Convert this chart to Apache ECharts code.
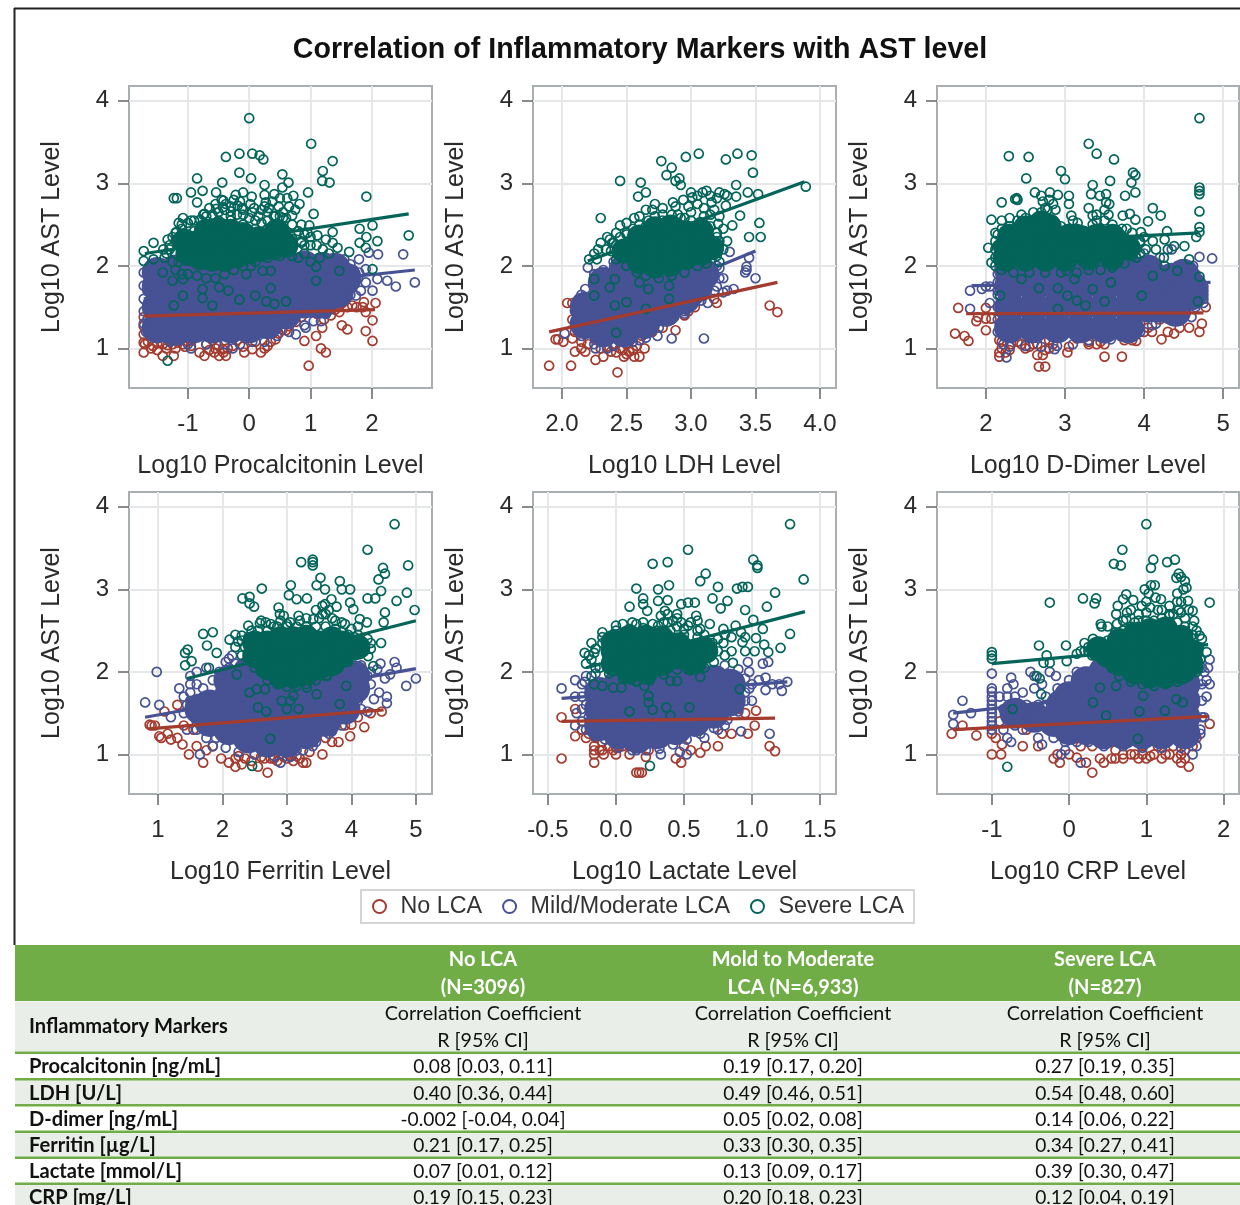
<!DOCTYPE html>
<html><head><meta charset="utf-8">
<style>html,body{margin:0;padding:0;background:#fff;overflow:hidden}#c{width:1240px;height:1205px;filter:blur(0.45px)}</style>
<script src="https://cdn.jsdelivr.net/npm/echarts@6/dist/echarts.min.js"></script>
</head><body><div id="c"></div>
<script>
const titleText = 'Correlation of Inflammatory Markers with AST level';
const groups = ['No LCA', 'Mild/Moderate LCA', 'Severe LCA'];
const yTicks = [1, 2, 3, 4];

// ---------- Procalcitonin ----------
const procNo = [[-1.72,.95],[-1.72,1.07],[-1.72,1.17],[-1.72,1.27],[-1.72,1.38],[-1.41,.91],[-1.23,.91],[-1.57,1.03],[-1.41,1.05],[-1.25,1.05],[-1.08,1.05],[-.92,1.11],[-.81,.95],[-.73,.91],[-.57,.95],[-.49,.91],[-.38,.91],[-.43,.99],[-.27,1.03],[-.08,.95],[.05,.99],[.19,.95],[.3,1.03],[.43,1.11],[.54,1.23],[.76,1.32],[.9,1.09],[.97,.79],[1.09,1.15],[1.17,1],[1.25,.95],[1.19,1.25],[1.33,1.4],[1.47,1.44],[1.51,1.28],[1.6,1.23],[1.9,1.21],[2.01,1.34],[2.01,1.09],[2.06,1.55],[1.87,1.56],[1.9,1.44],[1.68,1.52],[1.52,1.55],[1.3,1.52],[1.03,1.48],[-1.65,1.08],[-1.5,1.06],[-1.33,1.04],[-1.16,1.07],[-1,1.08],[-.7,1.05],[-.6,1.1],[-.5,1.03],[-.2,1.1],[.1,1.08],[.38,1.18],[.65,1.27],[1.22,1.35],[1.4,1.47],[1.75,1.5],[-1.7,1.05],[-1.6,1],[-1.5,.98],[-1.35,1],[-1.2,1],[-1.05,1.02],[-.95,1.03],[-.65,.98],[-.55,1],[-.42,.95],[-.35,1],[-.1,1.02],[.25,1],[.35,1.08],[.48,1.18],[.6,1.22],[.85,1.38],[1.1,1.42],[1.25,1.42],[1.6,1.5],[1.85,1.5]];
const procMild = [[2.7,1.8],[2.51,2.14],[2.39,1.75],[2.25,1.82],[2.1,2.14],[2.09,1.84],[2.01,1.7],[1.9,1.8],[1.79,1.92],[1.68,1.8],[1.6,1.96],[1.47,1.72],[1.9,1.96],[1.74,1.64],[1.95,2.16],[1.55,2.08],[1.36,2.08],[1.79,2.08],[-1.72,1.92],[-1.72,1.76],[-1.56,1.96],[-.95,1],[-.27,1],[.76,1.17],[.92,1.25],[1.17,1.33],[1.72,1.92],[1.82,1.7],[1.6,1.72],[1.5,1.85],[1.4,1.95],[1.65,2.02],[-1.72,1.6],[-1.72,1.45],[-1.72,1.3],[-1.68,1.2],[-1.66,1.52],[-1.66,1.7],[-1.66,1.35],[1.7,1.95],[1.78,1.85],[1.65,1.65],[1.55,1.6],[1.42,1.55],[1.25,1.42],[1.05,1.33],[.9,1.28],[.65,1.2],[.45,1.15],[.25,1.08],[.05,1.08],[-.15,1.05],[-.4,1.05],[-.7,1.05],[-1,1.05],[-1.3,1.08]];
const procMildCore = [[-1.5,1.25],[-1.2,1.22],[-.9,1.25],[-.6,1.25],[-.3,1.25],[0,1.25],[.3,1.3],[.6,1.42],[-1.5,1.5],[-1.2,1.5],[-.9,1.5],[-.6,1.5],[-.3,1.5],[0,1.5],[.3,1.55],[.6,1.6],[.9,1.55],[1.18,1.55],[-1.5,1.75],[-1.2,1.75],[-.9,1.75],[-.6,1.75],[-.3,1.75],[0,1.75],[.3,1.8],[.6,1.8],[.9,1.8],[1.2,1.8],[1.45,1.85],[-1.5,1.92],[-1.2,1.95],[-.9,1.95],[-.6,1.95],[-.3,1.95],[0,1.95],[.3,2],[.6,2],[.9,2],[1.2,1.98],[1.45,1.68],[1.58,1.85],[1.4,1.97]];
const procSevere = [[0,3.79],[1.01,3.48],[1.36,3.27],[-.38,3.32],[-.16,3.36],[.05,3.36],[.17,3.34],[.23,3.29],[-.16,3.13],[.03,3.06],[-.85,3.06],[-.44,3.01],[.25,2.98],[.54,3.11],[.64,3.01],[.54,2.95],[1.2,3.15],[1.19,3.03],[1.31,3.01],[.96,2.89],[1.91,2.84],[-.95,2.89],[-.76,2.91],[-.54,2.89],[-1.23,2.82],[-1.18,2.82],[-.85,2.77],[-.42,2.79],[-.22,2.86],[-.1,2.89],[.04,2.84],[.25,2.86],[.41,2.87],[.72,2.85],[.82,2.75],[.27,2.77],[-.19,2.73],[-.54,2.69],[-.43,2.71],[.05,2.65],[1.05,2.63],[.7,2.61],[.43,2.61],[-1.08,2.58],[-.73,2.63],[-1.19,2.41],[-1.56,2.28],[-1.33,2.32],[-1.72,2.18],[-1.72,2.06],[-1.56,2.08],[2.01,2.49],[1.8,2.45],[1.91,2.35],[2.09,2.3],[2.6,2.37],[1.8,2.28],[1.36,2.41],[1.11,2.37],[.98,2.49],[1.36,2.28],[1.44,2.22],[1.63,2.17],[1.9,2.22],[1.09,1.99],[1.09,1.82],[1.47,1.94],[2.01,1.96],[-1.08,1.64],[-1.23,1.52],[-.76,1.61],[-.6,1.52],[-.16,1.59],[.1,1.64],[.28,1.57],[.35,1.73],[.41,1.54],[.6,1.57],[-.34,1.7],[-.49,1.74],[-.76,1.72],[-1.25,1.82],[-1.08,1.84],[-1.41,1.92],[-.05,1.9],[.22,1.94],[.35,1.94],[.03,2],[-1.33,.85],[-.3,2.6],[-.1,2.68],[.15,2.6],[.3,2.65],[.55,2.58],[-1.3,2.2],[-1.38,2.1],[.85,2.3],[1,2.25],[1.2,2.2],[.8,2.1],[-1.15,2.52],[-.95,2.55]];
const procSevereEdge = [[-1.2,2.4],[-1.1,2.5],[-1,2.52],[-.9,2.55],[-.8,2.56],[-.7,2.6],[-.6,2.62],[-.5,2.65],[-.4,2.68],[-.3,2.66],[-.2,2.62],[-.1,2.62],[0,2.58],[.1,2.55],[.2,2.52],[.3,2.55],[.4,2.6],[.5,2.6],[.6,2.58],[.7,2.5],[.8,2.42],[.9,2.38],[1,2.35],[-1.3,2.25],[-1.35,2.15],[-1.25,2.05],[-1.2,1.95],[-1.1,1.9],[-1,1.9],[-.85,1.88],[-.7,1.85],[-.55,1.85],[-.4,1.9],[-.25,1.95],[-.1,2],[.1,2.05],[.3,2.1],[.5,2.12],[.7,2.12],[.9,2.15],[-.9,2.42],[-.7,2.5],[-.5,2.55],[-.3,2.55],[-.1,2.5],[.1,2.45],[.3,2.45],[.6,2.42],[.7,2.33],[.85,2.28],[-1.2,2.3],[-1.2,2.15],[-1.15,2.05],[-.75,2.62],[-.65,2.7],[-.55,2.75],[-.45,2.8],[-.38,2.75],[-.3,2.72],[-.25,2.8],[-.15,2.78],[-.12,2.7],[.02,2.75],[.08,2.7],[.2,2.68],[.25,2.72],[.32,2.7],[.38,2.78],[.48,2.72],[.55,2.65],[.65,2.72],[.75,2.68],[.62,2.82],[.5,2.82],[.85,2.5],[.95,2.4],[-1.1,2.45],[-1.25,2.35],[-1.4,2.2],[1.1,2.25],[1.25,2.32],[1.3,2.15],[1.15,2.1],[1,2.05],[.9,2.25]];
const procSevereCore = [[-1,2.15],[-.8,2.1],[-.6,2.08],[-.4,2.08],[-.2,2.12],[0,2.17],[.2,2.2],[.4,2.22],[.6,2.25],[-1.05,2.3],[-.85,2.28],[-.65,2.28],[-.45,2.28],[-.25,2.28],[-.05,2.3],[.15,2.33],[.35,2.33],[-.7,2.42],[-.5,2.44],[-.3,2.42],[-.1,2.38],[.45,2.42]];
const procFitNo = [[-1.72,1.39],[2.05,1.47]];
const procFitMild = [[-1.72,1.6],[2.7,1.95]];
const procFitSevere = [[-1.7,2.15],[2.6,2.63]];

// ---------- LDH ----------
const ldhNo = [[1.9,.79],[2.07,.79],[2.43,.71],[1.95,1.11],[1.97,1.11],[2.01,1.08],[2.08,1.12],[2.1,.96],[2.15,1],[2.18,.96],[2.26,.86],[2.32,.9],[2.38,.96],[2.48,.9],[2.52,.96],[2.56,.9],[2.6,.9],[2.64,1],[2.08,1.35],[2.04,1.55],[2.08,1.55],[2.1,1.2],[2.15,1.08],[2.3,1],[2.45,1],[2.5,1.05],[2.7,1.2],[2.78,1.25],[2.88,1.22],[2.95,1.4],[3,1.55],[3.03,1.5],[3.2,1.55],[3.18,1.6],[3.61,1.52],[3.67,1.44],[2.2,1.05],[2.4,1.05],[2.58,1.03],[2.62,1.15],[2.82,1.33],[2.98,1.45],[2.35,1.02],[2.42,.95],[2.47,.98],[2.5,.93],[2.55,.98]];
const ldhMild = [[3.1,1.12],[2.85,1.12],[3.5,1.85],[3.43,1.95],[3.43,1.99],[3.42,1.92],[3.3,2.17],[3.45,2.1],[3.33,1.72],[3.25,1.68],[3.2,1.75],[3.13,1.55],[2.95,1.42],[2.87,1.38],[2.74,1.15],[2.2,1.98],[2.13,1.6],[2.02,1.18],[2.26,1],[2.35,1],[2.6,1.1],[2.15,1.65],[2.25,1.9],[3.22,1.85],[3.2,2],[3.28,1.7],[3.05,1.6],[2.1,1.45],[2.12,1.3],[2.15,1.15],[2.25,1.05],[2.4,1.03],[2.55,1.08],[2.65,1.13],[2.75,1.25],[2.85,1.35],[2.95,1.45],[3.08,1.58],[3.18,1.7],[3.25,1.85],[3.22,1.97],[2.18,1.72],[2.25,1.8],[2.32,1.95],[2.4,2.05]];
const ldhMildCore = [[2.18,1.3],[2.18,1.5],[2.32,1.2],[2.32,1.4],[2.32,1.6],[2.32,1.8],[2.48,1.2],[2.48,1.4],[2.48,1.6],[2.48,1.8],[2.48,1.95],[2.64,1.3],[2.64,1.5],[2.64,1.7],[2.64,1.9],[2.8,1.45],[2.8,1.65],[2.8,1.85],[2.95,1.6],[2.95,1.8],[3.05,1.75],[3.1,1.9]];
const ldhSevere = [[2.45,3.03],[2.61,3.01],[2.59,2.84],[2.65,2.89],[2.77,3.27],[2.85,3.19],[2.81,3.1],[2.96,3.32],[3.06,3.36],[3.27,3.29],[3.36,3.36],[3.47,3.34],[3.48,3.13],[2.88,3.03],[2.91,3.06],[2.92,2.98],[3.35,2.98],[3.35,2.84],[3.44,2.89],[3.52,2.87],[3.89,2.96],[3.38,2.61],[3.32,2.49],[3.53,2.52],[3.54,2.35],[3.45,2.35],[2.3,2.58],[2.45,2.49],[2.56,2.58],[2.65,2.68],[2.72,2.75],[2.86,2.77],[2.94,2.8],[3,2.89],[3.12,2.91],[3.22,2.89],[3.26,2.87],[3.27,2.73],[3.16,2.77],[3.01,2.83],[3.09,2.89],[3.21,2.51],[2.3,2.28],[2.37,2.32],[2.21,2.08],[2.39,2.28],[2.34,2.2],[2.27,2.08],[3.2,2.35],[3.25,2.2],[2.25,1.64],[2.41,1.52],[2.5,1.56],[2.65,1.48],[2.83,1.76],[2.83,1.6],[2.42,1.19],[2.37,1.74],[2.67,1.72],[2.6,1.8],[2.41,1.84],[2.25,1.84],[3,2.65],[3.1,2.6],[3.18,2.68],[2.95,2.58],[2.5,2.38],[2.42,2.25],[2.9,2.62],[3.18,2.2],[3.22,2.05]];
const ldhSevereEdge = [[2.4,2.28],[2.45,2.35],[2.5,2.4],[2.55,2.45],[2.6,2.5],[2.67,2.55],[2.72,2.6],[2.78,2.62],[2.85,2.62],[2.92,2.58],[3,2.55],[3.07,2.53],[3.15,2.48],[3.2,2.4],[3.22,2.3],[3.2,2.12],[3.12,2.03],[3.05,2],[2.95,1.92],[2.85,1.88],[2.75,1.85],[2.65,1.88],[2.58,1.92],[2.5,2],[2.42,2.08],[2.38,2.18],[2.55,2.3],[2.65,2.48],[2.78,2.55],[2.9,2.52],[3.02,2.48],[3.12,2.42],[3.15,2.32],[3.13,2.12],[2.5,2.52],[2.6,2.6],[2.7,2.68],[2.78,2.7],[2.88,2.72],[2.98,2.72],[3.05,2.75],[3.1,2.7],[3.15,2.62],[3.22,2.6],[3.25,2.45],[3.28,2.3],[2.42,2.4],[2.35,2.35],[2.28,2.2],[2.25,2.15],[3.05,2.85],[3.15,2.85],[3.2,2.82],[3.28,2.85]];
const ldhSevereCore = [[2.48,2.18],[2.6,2.05],[2.6,2.2],[2.6,2.35],[2.72,2],[2.72,2.15],[2.72,2.3],[2.72,2.45],[2.84,2.02],[2.84,2.17],[2.84,2.32],[2.84,2.47],[2.96,2.1],[2.96,2.25],[2.96,2.4],[3.08,2.15],[3.08,2.3],[3.08,2.42],[3.16,2.22]];
const ldhFitNo = [[1.9,1.2],[3.67,1.8]];
const ldhFitMild = [[2.05,1.25],[3.5,2.18]];
const ldhFitSevere = [[2.2,2.06],[3.88,3.02]];

// ---------- D-dimer ----------
const dimerNo = [[1.61,1.18],[1.73,1.15],[1.78,1.09],[2,1.22],[1.88,1.33],[1.9,1.38],[1.65,1.49],[2,1.49],[2,1.36],[2.07,1.36],[2.17,1.1],[2.17,.95],[2.17,.9],[2.25,.95],[2.32,1.05],[2.4,1.08],[2.5,1],[2.6,1.05],[2.65,.92],[2.67,.78],[2.75,.78],[2.72,.92],[2.85,1.05],[3.03,.95],[3.05,1.02],[3.3,1.05],[3.4,1.05],[3.5,1.05],[3.5,.9],[3.72,.9],[3.75,1.1],[3.85,1.1],[3.9,1.09],[4.22,1.11],[4.38,1.18],[4.45,1.25],[4.57,1.25],[4.7,1.2],[4.73,1.3],[4.78,1.5],[4.45,1.52],[4.35,1.5],[4.2,1.35],[3.95,1.3],[3.6,1.22],[2.2,1.08],[2.65,1.05],[2.8,1.1],[3.15,1.12],[3.65,1.18],[4.05,1.25],[2.2,1],[2.3,.98],[2.45,1.05],[2.55,1.02],[2.75,.98],[2.8,1],[3.3,1.08],[3.45,1.08],[4,1.2],[4.1,1.2],[4.3,1.2]];
const dimerMild = [[4.86,2.09],[4.7,2.11],[4.35,2.2],[4.2,2.1],[4,2.15],[1.8,1.7],[2,1.75],[1.8,1.48],[2.05,1.55],[2.05,1.75],[1.95,1.72],[2.15,1.7],[4.75,1.75],[4.75,1.7],[4.75,1.65],[4.75,1.6],[4.75,1.55],[4.5,1.38],[4.6,1.38],[4.15,1.3],[3.95,1.25],[3.58,1.11],[2.87,.99],[2.26,.89],[2.22,1.05],[4.5,1.95],[4.35,1.95],[4.65,1.9],[4.65,1.5],[4.3,1.5],[4.28,1.75],[4.2,1.9],[4.45,1.6],[4.62,2],[2.15,1.2],[2.15,1.35],[2.15,1.5],[2.15,1.65],[2.15,1.8],[2.15,1.9],[2.3,1.02],[2.5,1.03],[2.7,1.02],[2.9,1.03],[3.1,1.05],[3.3,1.1],[3.5,1.12],[3.7,1.15],[3.95,1.2],[4.1,1.28],[4.3,1.36]];
const dimerMildCore = [[2.3,1.25],[2.6,1.25],[2.9,1.25],[3.2,1.25],[3.5,1.25],[3.8,1.25],[2.3,1.5],[2.6,1.5],[2.9,1.5],[3.2,1.5],[3.5,1.5],[3.8,1.5],[4.05,1.5],[2.3,1.75],[2.6,1.75],[2.9,1.75],[3.2,1.75],[3.5,1.75],[3.8,1.75],[4.05,1.75],[4.6,1.75],[2.3,1.95],[2.6,1.95],[2.9,1.95],[3.2,1.95],[3.5,1.95],[3.8,1.95],[4.05,1.95],[4.6,1.65],[4.55,1.8],[4.25,1.75],[4.35,1.85],[4.5,1.7],[4.2,1.5],[4.5,1.9],[4.4,1.45]];
const dimerSevere = [[4.7,3.79],[3.3,3.48],[3.4,3.36],[3.62,3.29],[2.29,3.33],[2.54,3.32],[2.51,3.06],[2.95,3.15],[3,3.05],[3.57,3.03],[3.35,2.98],[3.86,3.13],[3.89,3.1],[3.84,3.01],[3.89,2.89],[3.76,2.85],[4.7,2.95],[4.7,2.91],[4.7,2.87],[4.7,2.66],[2.62,2.89],[2.7,2.85],[2.81,2.89],[2.91,2.86],[3.05,2.85],[3.05,2.75],[2.39,2.82],[2.37,2.81],[2.4,2.8],[2.2,2.77],[3.33,2.87],[3.44,2.85],[3.52,2.87],[3.52,2.77],[3.56,2.75],[2.07,2.56],[3.08,2.61],[3.16,2.52],[3.35,2.61],[3.73,2.61],[3.82,2.63],[3.89,2.56],[4.05,2.54],[4.11,2.7],[4.21,2.61],[3.72,2.45],[3.96,2.41],[4.29,2.42],[4.7,2.47],[4.66,2.35],[4.7,2.41],[2.03,2.22],[2.07,2.04],[4.11,2.3],[4.26,2.32],[4.38,2.24],[4.51,2.24],[4.57,2.08],[4.42,1.94],[4.26,2],[4.11,1.88],[2.18,1.64],[2.67,1.73],[2.91,1.73],[3.03,1.64],[3.15,1.58],[3.26,1.52],[2.91,1.48],[3.35,1.72],[3.5,1.57],[3.97,1.64],[4.68,1.57],[4.7,1.87],[3.58,1.8],[3.12,1.84],[2.45,1.84],[3.02,1.94],[2.12,2.4],[2.12,2.3],[2.12,2.2],[2.12,2.1],[2.12,2],[2.75,2.7],[2.85,2.75],[3.4,2.55],[3.5,2.68],[3.95,2.3],[3.95,2.15]];
const dimerSevereEdge = [[2.2,2.45],[2.3,2.48],[2.4,2.55],[2.5,2.58],[2.6,2.55],[2.7,2.65],[2.78,2.68],[2.85,2.55],[2.95,2.48],[3.05,2.45],[3.15,2.45],[3.25,2.42],[3.35,2.5],[3.45,2.45],[3.55,2.4],[3.65,2.35],[3.75,2.33],[3.85,2.3],[3.95,2.28],[4.02,2.2],[3.9,2.1],[3.75,2.03],[3.6,1.98],[3.45,1.95],[3.3,1.95],[3.15,1.92],[2.95,1.92],[2.75,1.92],[2.55,1.92],[2.35,1.92],[2.2,1.95],[2.15,2.1],[2.15,2.25],[2.15,2.38],[3.2,2.33],[3.3,2.3],[3.85,2.12],[3.72,2.36],[2.2,2.55],[2.3,2.58],[2.45,2.62],[2.6,2.65],[2.72,2.78],[2.8,2.8],[2.88,2.68],[3.1,2.55],[3.3,2.7],[3.4,2.62],[3.5,2.55],[3.6,2.5],[3.55,2.62],[3.78,2.45],[3.85,2.4],[4,2.35],[4.15,2.2],[4.25,2.1],[4.3,2.2]];
const dimerSevereCore = [[2.25,2.08],[2.5,2.08],[2.75,2.08],[3,2.08],[3.3,2.1],[3.6,2.1],[2.25,2.22],[2.5,2.22],[2.75,2.22],[3,2.22],[3.3,2.22],[3.55,2.22],[3.8,2.22],[2.3,2.36],[2.55,2.36],[2.8,2.36],[3.05,2.36],[3.4,2.36],[3.6,2.36],[2.5,2.46],[2.8,2.48],[2.7,2.52],[3.18,2.2],[3.18,2.35]];
const dimerFitNo = [[1.75,1.42],[4.75,1.43]];
const dimerFitMild = [[1.82,1.76],[4.84,1.8]];
const dimerFitSevere = [[2.15,2.28],[4.7,2.4]];

// ---------- Ferritin ----------
const ferrNo = [[.87,1.36],[.9,1.35],[.95,1.35],[1.02,1.22],[1.05,1.2],[1.15,1.25],[1.2,1.18],[1.3,1.2],[1.38,1.12],[1.48,1],[1.7,.9],[1.85,1.1],[1.98,.95],[2.1,.9],[2.2,.85],[2.35,.95],[2.55,.85],[2.7,.78],[2.8,.95],[3,.95],[3.1,.92],[3.3,.9],[3.35,1.03],[3.55,1],[3.7,1.15],[3.8,1.15],[3.98,1.22],[4,1.36],[4.2,1.33],[4.47,1.52],[3.9,1.35],[3.6,1.2],[1.4,1.35],[1.55,1.3],[1.1,1.52],[1.3,1.6],[1.6,1.1],[1.75,1.05],[2.25,.98],[2.5,1],[2.65,.95],[2.9,1],[3.15,.98],[4.1,1.45],[4.3,1.5],[2.2,.95],[2.3,.88],[2.45,.92],[2.6,.97],[2.75,.95],[2.85,.92],[2.95,.97],[3.05,.98],[3.2,.95],[3.25,.9]];
const ferrMild = [[.8,1.63],[.98,2],[1.02,1.6],[1.2,1.45],[1.33,1.8],[1.5,1.85],[1.5,1.95],[1.6,2],[1.75,2.05],[2.05,2.12],[2.1,2.16],[2.15,2.2],[2.2,2.1],[5,1.92],[4.85,1.83],[4.7,2.05],[4.67,2.12],[4.52,1.92],[4.45,2.1],[4.55,1.7],[4.55,1.62],[4.43,1.75],[4.35,1.67],[4.15,1.55],[4.25,1.52],[4.4,2.03],[4.6,1.97],[4.3,2],[1.65,1],[2.9,.9],[3.15,1.05],[3.4,1.1],[3.65,1.25],[1.85,1.1],[1.4,1.5],[1.5,1.65],[1.6,1.4],[1.45,1.3],[1.4,1.7],[1.45,1.6],[1.5,1.75],[1.6,1.85],[1.7,1.8],[1.85,1.9],[1.95,2],[2.1,2.05],[1.6,1.5],[1.6,1.3],[1.75,1.2],[1.9,1.2],[2.05,1.08],[2.25,1.03],[2.5,1],[2.8,.98],[3.05,.97],[3.25,1.05],[3.45,1.15],[3.7,1.28],[3.85,1.35],[4,1.5],[4.1,1.65],[4.2,1.8],[4.25,1.95],[4.15,2.08],[4.3,1.85],[4.05,1.55]];
const ferrMildCore = [[1.8,1.4],[1.8,1.6],[2.1,1.3],[2.1,1.5],[2.1,1.7],[2.1,1.9],[2.4,1.2],[2.4,1.4],[2.4,1.6],[2.4,1.8],[2.4,2],[2.7,1.15],[2.7,1.35],[2.7,1.55],[2.7,1.75],[2.7,1.95],[3,1.15],[3,1.35],[3,1.55],[3,1.75],[3,1.95],[3.3,1.25],[3.3,1.45],[3.3,1.65],[3.3,1.85],[3.6,1.4],[3.6,1.6],[3.6,1.8],[3.6,2],[3.9,1.55],[3.9,1.75],[3.9,1.95],[1.65,1.55],[4.05,1.8],[4.05,1.95]];
const ferrSevere = [[4.67,3.79],[4.25,3.48],[3.22,3.33],[3.4,3.36],[3.4,3.33],[3.4,3.29],[4.88,3.29],[4.49,3.26],[4.52,3.19],[4.42,3.12],[4.46,2.98],[4.86,2.96],[4.7,2.86],[4.25,2.89],[4.37,2.89],[4.98,2.75],[4.52,2.72],[4.5,2.6],[4.46,2.35],[3.52,3.14],[3.06,3.05],[2.61,3.01],[2.31,2.89],[2.42,2.91],[2.42,2.83],[2.49,2.79],[3.46,3.05],[3.59,3],[3.82,3.1],[3.85,3],[3.98,3],[3.03,2.93],[3.31,2.89],[3.15,2.88],[2.87,2.78],[2.89,2.7],[3.18,2.68],[3.41,2.64],[3.59,2.82],[3.69,2.88],[3.77,2.79],[3.98,2.84],[4.03,2.76],[4.13,2.64],[4.24,2.6],[2.58,2.59],[2.67,2.6],[2.4,2.56],[1.7,2.46],[1.85,2.48],[1.76,2.32],[2.11,2.39],[1.91,2.23],[2.3,2.44],[2.24,2.37],[1.46,2.27],[1.42,2.23],[1.52,2.13],[1.42,2.08],[1.79,2.05],[2.5,2.44],[4.26,2.19],[4.34,2.07],[2.42,1.75],[2.53,1.79],[2.66,1.79],[2.55,1.57],[2.68,1.52],[2.92,1.65],[3.05,1.65],[3,1.55],[3.18,1.55],[3.1,1.71],[3.46,1.73],[3.82,1.61],[3.92,1.83],[3.31,1.81],[2.74,1.19],[2.46,.86],[2.22,1.97],[3.62,1.95],[3.55,2.7],[3.7,2.65],[3.85,2.6],[3.3,2.55],[3,2.58],[2.8,2.55],[4.1,2.45],[4.2,2.3],[4.3,2.35]];
const ferrSevereEdge = [[2.35,2.3],[2.4,2.42],[2.55,2.5],[2.7,2.5],[2.85,2.55],[3,2.55],[3.15,2.55],[3.3,2.55],[3.45,2.55],[3.6,2.55],[3.75,2.52],[3.85,2.48],[3.95,2.45],[4.05,2.42],[4.15,2.35],[4.2,2.25],[4.05,2.2],[3.95,2.12],[3.8,2.05],[3.6,1.95],[3.45,1.9],[3.3,1.85],[3.15,1.83],[3,1.82],[2.85,1.85],[2.7,1.9],[2.6,2],[2.5,2.05],[2.4,2.15],[2.3,2.2],[2.2,2.3],[2.3,2.38],[2.45,2.5],[2.6,2.62],[2.75,2.58],[2.9,2.62],[2.95,2.68],[3.05,2.6],[3.2,2.62],[3.3,2.65],[3.5,2.65],[3.6,2.7],[3.65,2.75],[3.75,2.62],[3.9,2.58],[4,2.52],[4.1,2.55],[3.55,2.8],[3.45,2.75],[2.2,2.45],[4.25,2.4],[4.3,2.28]];
const ferrSevereCore = [[2.5,2.2],[2.5,2.35],[2.7,2.05],[2.7,2.2],[2.7,2.35],[2.9,1.95],[2.9,2.1],[2.9,2.25],[2.9,2.4],[3.1,1.95],[3.1,2.1],[3.1,2.25],[3.1,2.4],[3.3,1.98],[3.3,2.13],[3.3,2.28],[3.3,2.42],[3.5,2.05],[3.5,2.2],[3.5,2.35],[3.7,2.1],[3.7,2.25],[3.7,2.4],[3.85,2.2],[3.85,2.35],[4.1,2.3]];
const ferrFitNo = [[.85,1.31],[4.5,1.54]];
const ferrFitMild = [[.8,1.45],[5,2.04]];
const ferrFitSevere = [[1.45,1.92],[5,2.62]];

// ---------- Lactate ----------
const lacNo = [[-.4,.95],[-.4,1.45],[-.3,1.22],[-.3,1.55],[-.25,1.3],[-.22,1.2],[-.16,1.1],[-.16,1.05],[-.16,1],[-.16,.9],[-.09,1],[-.05,1.1],[0,1],[.1,1],[.15,.78],[.17,.78],[.19,.78],[.22,.97],[.24,1.05],[.44,.95],[.48,.9],[.5,1.1],[.55,1.05],[.66,1.1],[.75,1.1],[.78,1.25],[.85,1.25],[.97,1.25],[1.02,1.35],[1.03,1.53],[.95,1.5],[.8,1.55],[1.13,1.1],[1.17,1.04],[.62,1.02],[.35,1.15],[-.1,1.15],[-.2,1.25],[-.12,1.05],[-.02,1.05],[.05,1.1],[.9,1.55],[-.1,1.05],[0,1.08],[.03,1.12],[.1,1.1],[-.15,1.2]];
const lacMild = [[-.4,1.8],[-.3,1.9],[-.23,1.88],[-.3,1.7],[-.29,1.5],[-.3,1.35],[1.26,1.88],[1.22,1.77],[1.2,1.85],[1.15,1.85],[1.1,1.78],[1.05,1.9],[1.1,1.93],[1.08,2.1],[1.12,2.12],[.97,2.12],[.98,2],[1,1.85],[.95,1.75],[1,1.65],[.9,1.6],[1.13,1.25],[.92,1.28],[.65,1.2],[.52,1],[.47,1.03],[.33,1],[.15,1.05],[.75,1.3],[.85,1.95],[.8,1.35],[-.22,1.6],[-.2,1.45],[.9,1.9],[-.25,1.85],[-.25,1.7],[-.25,1.55],[-.25,1.4],[-.22,1.3],[-.15,1.22],[-.08,1.18],[.02,1.08],[.12,1.05],[.22,1.05],[.32,1.07],[.42,1.12],[.52,1.18],[.62,1.25],[.72,1.32],[.82,1.42],[.9,1.52],[.95,1.65],[.98,1.8],[.95,1.92],[.9,2.03],[.8,2.08],[-.22,1.95],[-.15,1.98]];
const lacMildCore = [[-.12,1.35],[-.12,1.55],[-.12,1.75],[.02,1.25],[.02,1.45],[.02,1.65],[.02,1.85],[.16,1.2],[.16,1.4],[.16,1.6],[.16,1.8],[.3,1.25],[.3,1.45],[.3,1.65],[.3,1.85],[.44,1.3],[.44,1.5],[.44,1.7],[.44,1.9],[.58,1.4],[.58,1.6],[.58,1.8],[.58,1.95],[.72,1.5],[.72,1.7],[.72,1.9],[.84,1.65],[.84,1.85]];
const lacSevere = [[1.28,3.79],[.53,3.48],[.27,3.31],[.38,3.33],[1.01,3.36],[1.04,3.29],[1.04,3.26],[.66,3.19],[.62,3.1],[1.38,3.12],[.75,3.03],[.89,3.01],[.93,3.03],[.97,3.03],[1.17,2.96],[.39,3.05],[.15,3.01],[.31,3],[.2,2.89],[.2,2.82],[.1,2.79],[.23,2.74],[.31,2.86],[.38,2.87],[.36,2.74],[.48,2.82],[.53,2.84],[.58,2.84],[.71,2.89],[.82,2.86],[.77,2.77],[1.11,2.79],[.95,2.75],[1.01,2.63],[.45,2.7],[.59,2.68],[.69,2.58],[1.28,2.46],[1.08,2.52],[1.21,2.29],[1.03,2.41],[1.09,2.33],[1.12,2.24],[1.02,2.25],[.93,2.36],[.88,2.56],[.79,2.52],[.71,2.35],[.79,2.35],[.86,2.11],[-.1,2.48],[0,2.56],[-.23,2.23],[-.16,2.23],[-.1,2.35],[.15,2.58],[.2,2.6],[.31,2.56],[.53,2.56],[-.1,1.83],[-.16,1.85],[-.02,1.81],[.04,1.81],[.15,1.89],[.21,1.83],[.4,1.89],[.45,1.89],[.62,1.94],[.53,2.03],[.24,1.71],[.24,1.63],[.27,1.54],[.37,1.57],[.1,1.52],[.54,1.57],[.4,1.47],[.91,1.79],[.25,.86],[.38,2.6],[.45,2.55],[.6,2.5],[.7,2.2],[.8,2.2],[.95,2.25],[-.15,2.05],[-.18,1.95]];
const lacSevereEdge = [[-.18,2.15],[-.15,2.28],[-.1,2.42],[0,2.45],[.1,2.52],[.2,2.53],[.3,2.5],[.4,2.5],[.5,2.45],[.6,2.42],[.68,2.35],[.75,2.25],[.72,2.12],[.65,2.05],[.55,2.02],[.45,2.03],[.35,1.97],[.25,1.9],[.15,1.88],[.05,1.92],[-.05,1.98],[-.12,2.05],[-.2,2.2],[.75,2.4],[.85,2.25],[.5,2.52],[.62,2.52],[0,2.5],[.05,2.58],[.12,2.6],[.27,2.58],[.35,2.6],[.42,2.62],[.48,2.6],[.55,2.6],[.6,2.62],[.38,2.7],[.33,2.68],[.45,2.65],[.65,2.45],[.8,2.45],[.85,2.42],[.92,2.48],[.95,2.42],[-.18,2.35],[-.22,2.1]];
const lacSevereCore = [[-.02,2.1],[-.02,2.25],[-.02,2.36],[.1,2],[.1,2.15],[.1,2.3],[.1,2.42],[.22,2],[.22,2.15],[.22,2.3],[.22,2.42],[.34,2.1],[.34,2.25],[.34,2.4],[.46,2.18],[.46,2.33],[.58,2.25],[.58,2.12],[.66,2.25]];
const lacFitNo = [[-.4,1.4],[1.17,1.44]];
const lacFitMild = [[-.4,1.68],[1.26,1.88]];
const lacFitSevere = [[-.22,2.05],[1.39,2.73]];

// ---------- CRP ----------
const crpNo = [[-1.52,1.25],[-1.38,1.35],[-1.2,1.23],[-1,1],[-.88,1],[-.87,1.12],[-.95,1.2],[-1,1.25],[-.9,1.4],[-.6,1.1],[-.55,1.3],[-.4,1.1],[-.2,.95],[-.12,.9],[-.15,1],[0,1],[.1,.96],[.15,1.1],[.22,.9],[.3,.78],[.4,.95],[.45,.9],[.55,.95],[.6,1.05],[.7,.95],[.8,1],[.9,.95],[1,.95],[1.1,1],[1.2,.95],[1.3,1],[1.4,.95],[1.45,.9],[1.55,.85],[1.6,1.1],[1.5,1.05],[1.35,1.1],[1.15,1.1],[.95,1.1],[.75,1.15],[.5,1.15],[.3,1.1],[1.82,1.37],[1.65,1.2],[-.75,1.5],[-.6,1.45],[-.45,1.35],[.6,.95],[.7,1],[.85,1],[.95,1],[1.05,.98],[1.25,1],[1.45,1],[1.5,.95]];
const crpMild = [[-1,1.98],[-1,1.8],[-1,1.76],[-1,1.7],[-1,1.65],[-1,1.6],[-1,1.55],[-1,1.5],[-1,1.45],[-1,1.4],[-1,1.35],[-1,1.3],[-1.5,1.48],[-1.5,1.37],[-1.38,1.65],[-1.27,1.5],[-.75,1.93],[-.8,1.8],[-.72,1.85],[-.9,1.7],[-.8,1.7],[-.7,1.7],[-.6,1.75],[-.5,2],[-.45,1.95],[-.55,1.6],[-.45,1.8],[-.35,1.85],[-.25,2],[-.17,1.95],[-.3,1.7],[-.6,1.5],[-.4,1.6],[-.75,1.45],[-.6,1.3],[-.4,1.2],[-.35,1.12],[-.1,1],[-.05,1.05],[.15,.9],[1.6,1],[1.82,2.15],[1.8,2.05],[1.82,1.85],[1.78,1.7],[1.75,1.45],[1.7,1.3],[-.8,1.2],[-.75,1.15],[1.75,2],[1.78,1.9],[-.2,1.2],[-.05,1.15],[.1,1.15],[.25,1.15],[.45,1.1],[.7,1.1],[.95,1.08],[1.2,1.08],[1.45,1.08],[1.65,1.1],[1.7,1.25],[1.72,1.45],[1.72,1.65],[1.72,1.85],[1.72,2.05],[.1,2],[0,1.9],[-.15,1.8],[-.3,1.6],[-.35,1.4],[-.55,1.4],[-.7,1.35],[-.85,1.3],[-.85,1.55],[-.65,1.6],[-.5,1.55]];
const crpMildCore = [[-.2,1.4],[-.1,1.6],[0,1.3],[0,1.5],[0,1.7],[.22,1.3],[.22,1.5],[.22,1.7],[.22,1.88],[.45,1.25],[.45,1.45],[.45,1.65],[.45,1.85],[.45,2],[.7,1.25],[.7,1.45],[.7,1.65],[.7,1.85],[.95,1.25],[.95,1.45],[.95,1.65],[.95,1.85],[1.2,1.25],[1.2,1.45],[1.2,1.65],[1.2,1.85],[1.5,1.25],[1.5,1.45],[1.5,1.65],[1.5,1.85],[-.45,1.45],[-.7,1.5]];
const crpSevere = [[1,3.79],[.69,3.48],[1.09,3.36],[1.06,3.26],[1.27,3.33],[1.37,3.36],[.58,3.31],[.67,3.29],[1.42,3.19],[1.39,3.14],[1.5,3.1],[1.52,3.02],[.98,3],[1.06,3.05],[1.11,3.05],[-.25,2.84],[.18,2.89],[.35,2.89],[.33,2.83],[1.82,2.84],[.74,2.94],[.63,2.8],[.7,2.88],[.83,2.87],[.94,2.8],[1.19,2.88],[1.54,2.86],[1.6,2.74],[.61,2.7],[.74,2.64],[.85,2.6],[.41,2.58],[1.69,2.44],[1.78,2.24],[-.39,2.32],[-.04,2.32],[-.29,2.2],[-.25,2.11],[-.33,2.11],[-.03,2.13],[-1,2.24],[-1,2.2],[-1,2.16],[.2,2.35],[.31,2.4],[-.42,1.95],[-.38,1.92],[-.36,1.73],[-.73,1.55],[.31,1.63],[.48,1.47],[.91,1.52],[.89,1.19],[-.8,.85],[.4,1.81],[.61,1.83],[1.24,1.53],[1.39,1.67],[1.47,1.63],[1.67,2.03],[.96,1.71],[1.45,3.15],[1.42,2.75],[1.4,2.85],[1.3,2.7],[1.15,2.75],[1,2.85],[.9,2.7],[1.6,2.55],[1.65,2.3],[.42,2.55],[.15,2.25],[.25,2.25]];
const crpSevereEdge = [[.4,2.32],[.5,2.38],[.6,2.48],[.7,2.5],[.8,2.55],[.9,2.55],[1,2.62],[1.1,2.62],[1.2,2.65],[1.3,2.68],[1.4,2.6],[1.5,2.55],[1.6,2.45],[1.68,2.3],[1.7,2.15],[1.65,2],[1.55,1.95],[1.4,1.88],[1.25,1.85],[1.1,1.83],[.95,1.85],[.8,1.88],[.65,1.95],[.55,2.05],[.45,2.15],[.3,2.2],[.2,2.25],[.1,2.22],[.25,2.3],[.35,2.35],[.5,2.55],[.62,2.58],[.7,2.62],[.75,2.72],[.9,2.62],[1,2.72],[1.05,2.78],[1.2,2.75],[1.3,2.8],[1.35,2.7],[1.45,2.72],[1.5,2.65],[1.55,2.75],[1.62,2.62],[1.65,2.5],[1.72,2.4],[1.4,2.95],[1.48,3],[1.45,2.85],[1.03,2.95],[1.12,2.9],[.8,2.75]];
const crpSevereCore = [[.65,2.1],[.65,2.25],[.65,2.38],[.85,2],[.85,2.15],[.85,2.3],[.85,2.45],[1.05,1.95],[1.05,2.1],[1.05,2.25],[1.05,2.4],[1.05,2.5],[1.25,1.95],[1.25,2.1],[1.25,2.25],[1.25,2.4],[1.25,2.52],[1.45,2],[1.45,2.15],[1.45,2.3],[1.45,2.42],[1.58,2.1],[1.58,2.25],[.5,2.2],[.38,2.28]];
const crpFitNo = [[-1.5,1.3],[1.8,1.46]];
const crpFitMild = [[-1.5,1.5],[1.8,1.85]];
const crpFitSevere = [[-1,2.1],[1.8,2.33]];

// ---------- Table ----------
const tableHead = [['No LCA','(N=3096)'],['Mold to Moderate','LCA (N=6,933)'],['Severe LCA','(N=827)']];
const tableSub = ['Correlation Coefficient','R [95% CI]'];
const tableStub = 'Inflammatory Markers';
const tableMarkers = ['Procalcitonin [ng/mL]','LDH [U/L]','D-dimer [ng/mL]','Ferritin [µg/L]','Lactate [mmol/L]','CRP [mg/L]'];
const tableNo = ['0.08 [0.03, 0.11]','0.40 [0.36, 0.44]','-0.002 [-0.04, 0.04]','0.21 [0.17, 0.25]','0.07 [0.01, 0.12]','0.19 [0.15, 0.23]'];
const tableMild = ['0.19 [0.17, 0.20]','0.49 [0.46, 0.51]','0.05 [0.02, 0.08]','0.33 [0.30, 0.35]','0.13 [0.09, 0.17]','0.20 [0.18, 0.23]'];
const tableSevere = ['0.27 [0.19, 0.35]','0.54 [0.48, 0.60]','0.14 [0.06, 0.22]','0.34 [0.27, 0.41]','0.39 [0.30, 0.47]','0.12 [0.04, 0.19]'];

// ---------- Layout ----------
const RED='#a33b2f', BLUE='#465294', TEAL='#03645a';
const AXFONT='"Liberation Sans",Arial,sans-serif';
const TBFONT='Lato,"Open Sans",sans-serif';
const panels = [
 {name:'Log10 Procalcitonin Level',left:129,top:86,xr:[-1.96,2.98],ticks:[-1,0,1,2],dec:0,no:procNo,mild:procMild,mildC:procMildCore,sev:procSevere.concat(procSevereEdge),sevC:procSevereCore,fn:procFitNo,fm:procFitMild,fs:procFitSevere},
 {name:'Log10 LDH Level',left:533,top:86,xr:[1.775,4.124],ticks:[2,2.5,3,3.5,4],dec:1,no:ldhNo,mild:ldhMild,mildC:ldhMildCore,sev:ldhSevere.concat(ldhSevereEdge),sevC:ldhSevereCore,fn:ldhFitNo,fm:ldhFitMild,fs:ldhFitSevere},
 {name:'Log10 D-Dimer Level',left:937,top:86,xr:[1.382,5.2],ticks:[2,3,4,5],dec:0,no:dimerNo,mild:dimerMild,mildC:dimerMildCore,sev:dimerSevere.concat(dimerSevereEdge),sevC:dimerSevereCore,fn:dimerFitNo,fm:dimerFitMild,fs:dimerFitSevere},
 {name:'Log10 Ferritin Level',left:129,top:492,xr:[.55,5.25],ticks:[1,2,3,4,5],dec:0,no:ferrNo,mild:ferrMild,mildC:ferrMildCore,sev:ferrSevere.concat(ferrSevereEdge),sevC:ferrSevereCore,fn:ferrFitNo,fm:ferrFitMild,fs:ferrFitSevere},
 {name:'Log10 Lactate Level',left:533,top:492,xr:[-.61,1.618],ticks:[-.5,0,.5,1,1.5],dec:1,no:lacNo,mild:lacMild,mildC:lacMildCore,sev:lacSevere.concat(lacSevereEdge),sevC:lacSevereCore,fn:lacFitNo,fm:lacFitMild,fs:lacFitSevere},
 {name:'Log10 CRP Level',left:937,top:492,xr:[-1.71,2.2],ticks:[-1,0,1,2],dec:0,no:crpNo,mild:crpMild,mildC:crpMildCore,sev:crpSevere.concat(crpSevereEdge),sevC:crpSevereCore,fn:crpFitNo,fm:crpFitMild,fs:crpFitSevere}
];
const axisText={color:'#2a2a2a',fontFamily:AXFONT,fontSize:24};
const nameText={color:'#2a2a2a',fontFamily:AXFONT,fontSize:25};
const grids=[],xAxes=[],yAxes=[],series=[];
panels.forEach((p,i)=>{
  grids.push({left:p.left,top:p.top,width:i%3==2?302:303,height:302,show:true,borderColor:'#a9aeb1',borderWidth:2,backgroundColor:'#fff',containLabel:false});
  const tick={show:true,length:11,lineStyle:{color:'#666',width:1.5}};
  xAxes.push({gridIndex:i,type:'value',min:p.xr[0],max:p.xr[1],name:p.name,nameLocation:'middle',nameGap:66,nameTextStyle:nameText,
    axisLine:{show:false,onZero:false},axisTick:Object.assign({customValues:p.ticks},tick),
    axisLabel:Object.assign({customValues:p.ticks,margin:24,formatter:v=>(+v).toFixed(p.dec)},axisText),
    splitLine:{show:true,lineStyle:{color:'#e6e7e8',width:2}}});
  yAxes.push({gridIndex:i,type:'value',min:.52,max:4.18,name:'Log10 AST Level',nameLocation:'middle',nameGap:64,nameTextStyle:nameText,nameRotate:90,
    axisLine:{show:false,onZero:false},axisTick:Object.assign({customValues:yTicks},tick),
    axisLabel:Object.assign({customValues:yTicks,margin:20,padding:[2,0,0,0]},axisText),
    splitLine:{show:true,lineStyle:{color:'#e6e7e8',width:2}}});
  const ring=(name,data,c,z)=>series.push({name,type:'scatter',xAxisIndex:i,yAxisIndex:i,data,z,symbol:'circle',symbolSize:9,silent:true,
    itemStyle:{color:'rgba(255,255,255,0)',borderColor:c,borderWidth:1.7,opacity:1}});
  const core=(name,data,c,z,size)=>series.push({name,type:'scatter',xAxisIndex:i,yAxisIndex:i,data,z,symbol:'circle',symbolSize:size,silent:true,
    itemStyle:{color:c,borderWidth:0,opacity:1}});
  const fit=(data,c,z)=>series.push({name:'fit',type:'line',xAxisIndex:i,yAxisIndex:i,data,z,showSymbol:false,symbol:'none',silent:true,
    lineStyle:{color:c,width:3.2}});
  ring(groups[0],p.no,RED,2);
  ring(groups[1],p.mild,BLUE,4);
  ring(groups[2],p.sev,TEAL,7);
  core(groups[1],p.mildC,BLUE,3,31);
  core(groups[2],p.sevC,TEAL,6,25);
  fit(p.fm,BLUE,5);
  fit(p.fs,TEAL,8);
  fit(p.fn,RED,9);
});

// ---------- Table drawing ----------
const gfx=[];
const GREEN='#70ad47', TINT='#e9eee8';
const COLS=[483,793,1105], TL=15, TR=1240;
const rect=(y,h,fill)=>gfx.push({type:'rect',z:20,shape:{x:TL,y,width:TR-TL,height:h},style:{fill}});
const txt=(x,y,text,o)=>gfx.push({type:'text',z:22,x,y,style:Object.assign({text,fill:'#111',fontFamily:TBFONT,fontSize:19.7,align:'center',verticalAlign:'middle'},o||{})});
gfx.push({type:'line',z:20,shape:{x1:14.5,y1:8,x2:14.5,y2:945},style:{stroke:'#222',lineWidth:2}});
gfx.push({type:'line',z:20,shape:{x1:14,y1:8.5,x2:1240,y2:8.5},style:{stroke:'#222',lineWidth:2}});
rect(945,56,GREEN);
rect(1001.5,50,TINT);
const rowY=[1053,1079.5,1105.5,1132,1158,1184];
const boldLeft={align:'left',fontWeight:'bold',fontSize:20.1};
const boldHead={fill:'#fff',fontWeight:'bold',fontSize:20};
const valueStyle={fontSize:19.2};
rowY.forEach((y,i)=>{
  rect(y,26.5,i%2?TINT:'#fff');
  rect(y-1.5,2.6,GREEN);
  txt(29,y+14,tableMarkers[i],boldLeft);
  txt(COLS[0],y+14,tableNo[i],valueStyle);
  txt(COLS[1],y+14,tableMild[i],valueStyle);
  txt(COLS[2],y+14,tableSevere[i],valueStyle);
});
txt(29,1027,tableStub,boldLeft);
tableHead.forEach((h,i)=>{
  txt(COLS[i],960,h[0],boldHead);
  txt(COLS[i],988,h[1],boldHead);
  txt(COLS[i],1014,tableSub[0]);
  txt(COLS[i],1041,tableSub[1]);
});

const chart=echarts.init(document.getElementById('c'),null,{width:1240,height:1205});
chart.setOption({
  animation:false,backgroundColor:'#fff',
  title:{text:titleText,left:635,top:31,textAlign:'center',textStyle:{fontFamily:AXFONT,fontWeight:'bold',fontSize:28.6,color:'#111'}},
  legend:{show:true,data:groups,left:361,top:890,orient:'horizontal',itemWidth:16,itemHeight:13,itemGap:20,selectedMode:false,
    padding:[5,10,5,11],borderColor:'#d2d4d6',borderWidth:2,backgroundColor:'#fff',
    textStyle:{fontFamily:AXFONT,fontSize:23.3,color:'#333',padding:[0,0,0,8]}},
  grid:grids,xAxis:xAxes,yAxis:yAxes,series,graphic:gfx
});
</script></body></html>
